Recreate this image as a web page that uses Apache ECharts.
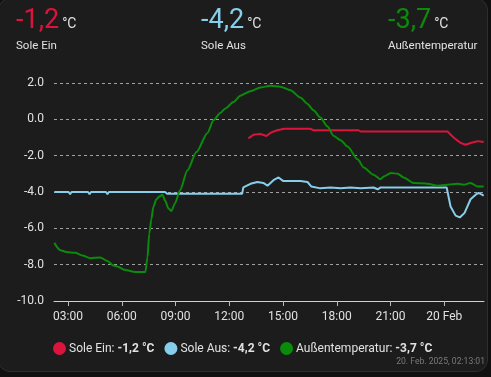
<!DOCTYPE html>
<html>
<head>
<meta charset="utf-8">
<script src="https://cdn.jsdelivr.net/npm/echarts@6/dist/echarts.min.js"></script>
<style>
  html, body { margin:0; padding:0; background:#111111; width:491px; height:377px; overflow:hidden; font-family: Roboto, "Noto Sans", sans-serif; }
  #card { position:absolute; left:-2px; top:-2px; width:490px; height:374px; background:#1c1c1c; border:1px solid #2e2e2e; border-radius:12px; box-sizing:border-box; }
  #chart { position:absolute; left:0; top:0; width:491px; height:377px; }
  .hd { position:absolute; top:4px; color:#e1e1e1; }
  .hd .val { font-size:27px; line-height:30px; }
  .hd .unit { font-size:14px; margin-left:3px; }
  .hd .lbl { font-size:11.5px; margin-top:4px; }
  #ts { position:absolute; right:6px; top:356px; font-size:8.6px; color:#7a7a7a; }
</style>
</head>
<body>
<div id="card"></div>
<div id="chart"></div>
<div class="hd" style="left:16px"><div><span class="val" style="color:#dc143c">-1,2</span><span class="unit">°C</span></div><div class="lbl">Sole Ein</div></div>
<div class="hd" style="left:201px"><div><span class="val" style="color:#87ceeb">-4,2</span><span class="unit">°C</span></div><div class="lbl">Sole Aus</div></div>
<div class="hd" style="left:388px"><div><span class="val" style="color:#0c8a0c">-3,7</span><span class="unit">°C</span></div><div class="lbl">Außentemperatur</div></div>
<div id="ts">20. Feb. 2025, 02:13:01</div>
<script>
// ---- data ----
const seriesNames = ['Sole Ein', 'Sole Aus', 'Außentemperatur'];
const currentValues = ['-1,2 °C', '-4,2 °C', '-3,7 °C'];
const monthNames = ['Jan','Feb','Mar','Apr','May','Jun','Jul','Aug','Sep','Oct','Nov','Dec'];
const xTickTimes = ['2025-02-19 03:00','2025-02-19 06:00','2025-02-19 09:00','2025-02-19 12:00','2025-02-19 15:00','2025-02-19 18:00','2025-02-19 21:00','2025-02-20 00:00'];

const tSoleEin = ['2025-02-19 13:04','2025-02-19 13:21','2025-02-19 13:44','2025-02-19 14:04','2025-02-19 14:21','2025-02-19 14:41','2025-02-19 15:04','2025-02-19 16:32','2025-02-19 16:42','2025-02-19 19:13','2025-02-19 19:20','2025-02-20 00:11','2025-02-20 00:31','2025-02-20 00:55','2025-02-20 01:12','2025-02-20 01:28','2025-02-20 01:52','2025-02-20 02:12'];
const vSoleEin = [-1.05,-0.85,-0.8,-0.92,-0.72,-0.6,-0.52,-0.52,-0.6,-0.6,-0.67,-0.67,-1.0,-1.3,-1.4,-1.3,-1.2,-1.25];

const tSoleAus = ['2025-02-19 02:14','2025-02-19 03:02','2025-02-19 03:07','2025-02-19 03:12','2025-02-19 04:07','2025-02-19 04:12','2025-02-19 04:17','2025-02-19 05:07','2025-02-19 05:12','2025-02-19 05:17','2025-02-19 07:58','2025-02-19 08:03','2025-02-19 08:08','2025-02-19 08:25','2025-02-19 08:32','2025-02-19 12:43','2025-02-19 12:47','2025-02-19 12:53','2025-02-19 13:11','2025-02-19 13:34','2025-02-19 13:54','2025-02-19 14:08','2025-02-19 14:28','2025-02-19 14:45','2025-02-19 15:01','2025-02-19 15:35','2025-02-19 15:58','2025-02-19 16:22','2025-02-19 16:35','2025-02-19 17:05','2025-02-19 17:39','2025-02-19 18:13','2025-02-19 18:46','2025-02-19 19:20','2025-02-19 20:03','2025-02-19 20:17','2025-02-19 20:27','2025-02-20 00:08','2025-02-20 00:21','2025-02-20 00:38','2025-02-20 00:52','2025-02-20 01:08','2025-02-20 01:28','2025-02-20 01:45','2025-02-20 01:55','2025-02-20 02:12'];
const vSoleAus = [-4.0,-4.0,-4.12,-4.0,-4.0,-4.12,-4.0,-4.0,-4.12,-4.0,-4.0,-4.1,-4.0,-4.0,-4.1,-4.1,-3.75,-3.65,-3.55,-3.45,-3.5,-3.65,-3.35,-3.2,-3.4,-3.4,-3.4,-3.45,-3.7,-3.8,-3.75,-3.8,-3.75,-3.8,-3.75,-3.85,-3.75,-3.75,-4.8,-5.3,-5.4,-5.15,-4.4,-4.15,-4.05,-4.2];

const tAussen = ['2025-02-19 02:14','2025-02-19 02:34','2025-02-19 02:54','2025-02-19 03:24','2025-02-19 03:48','2025-02-19 04:15','2025-02-19 04:48','2025-02-19 05:12','2025-02-19 05:32','2025-02-19 05:45','2025-02-19 06:12','2025-02-19 06:45','2025-02-19 07:12','2025-02-19 07:19','2025-02-19 07:26','2025-02-19 07:32','2025-02-19 07:39','2025-02-19 07:46','2025-02-19 07:56','2025-02-19 08:06','2025-02-19 08:16','2025-02-19 08:26','2025-02-19 08:36','2025-02-19 08:46','2025-02-19 08:59','2025-02-19 09:15','2025-02-19 09:40','2025-02-19 10:10','2025-02-19 10:47','2025-02-19 11:07','2025-02-19 11:30','2025-02-19 11:47','2025-02-19 12:14','2025-02-19 12:37','2025-02-19 13:11','2025-02-19 13:44','2025-02-19 14:18','2025-02-19 14:51','2025-02-19 15:25','2025-02-19 15:58','2025-02-19 16:22','2025-02-19 16:42','2025-02-19 17:05','2025-02-19 17:29','2025-02-19 17:49','2025-02-19 18:13','2025-02-19 18:36','2025-02-19 19:10','2025-02-19 19:30','2025-02-19 20:03','2025-02-19 20:27','2025-02-19 20:37','2025-02-19 21:01','2025-02-19 21:24','2025-02-19 21:44','2025-02-19 22:17','2025-02-19 23:04','2025-02-19 23:38','2025-02-20 00:11','2025-02-20 00:45','2025-02-20 01:05','2025-02-20 01:28','2025-02-20 01:52','2025-02-20 02:12'];
const vAussen = [-6.8,-7.2,-7.3,-7.35,-7.5,-7.65,-7.6,-7.8,-8.05,-8.1,-8.3,-8.4,-8.4,-8.4,-7.6,-6.3,-5.5,-4.8,-4.4,-4.25,-4.15,-4.5,-4.9,-5.05,-4.6,-3.9,-2.8,-1.8,-0.75,-0.05,0.35,0.6,0.95,1.3,1.55,1.75,1.85,1.8,1.6,1.2,0.85,0.5,0.1,-0.4,-0.9,-1.15,-1.5,-2.2,-2.65,-3.05,-3.3,-3.15,-2.95,-3.0,-3.2,-3.5,-3.55,-3.65,-3.6,-3.55,-3.6,-3.5,-3.7,-3.7];

const yTicks = { min: -10, max: 2, interval: 2 };
const xRange = ['2025-02-19 02:13:01', '2025-02-20 02:13:01'];

// ---- chart ----
function parseLocal(s){ const [d,t]=s.split(' '); const [Y,M,D]=d.split('-').map(Number); const tt=t.split(':').map(Number); return new Date(Y,M-1,D,tt[0],tt[1],tt[2]||0).getTime(); }
function zip(ts, vs){ return ts.map((t,i)=>[parseLocal(t), vs[i]]); }
function pad(n){ return (n<10?'0':'')+n; }
const colors = ['#dc143c', '#87ceeb', '#0c8a0c'];
const tickValues = xTickTimes.map(parseLocal);
const chart = echarts.init(document.getElementById('chart'), null, {renderer:'canvas'});
chart.setOption({
  backgroundColor: 'transparent',
  animation: false,
  color: colors,
  textStyle: { fontFamily: 'Roboto' },
  grid: { left: 54, top: 83, width: 430, height: 218, containLabel: false },
  legend: {
    left: 48, top: 337, icon: 'circle', itemWidth: 13, itemHeight: 13, itemGap: 10,
    data: seriesNames,
    formatter: function(name){ return name + ': {b|' + currentValues[seriesNames.indexOf(name)] + '}'; },
    textStyle: { color: '#e1e1e1', fontSize: 12, padding: [0,0,0,-2], rich: { b: { fontWeight: 'bold', color: '#e1e1e1', fontSize: 12 } } }
  },
  xAxis: {
    type: 'value', scale: true,
    min: parseLocal(xRange[0]), max: parseLocal(xRange[1]),
    axisLine: { show: true, onZero: false, lineStyle: { color: '#d0d0d0', width: 1 } },
    axisTick: { show: true, length: 5, customValues: tickValues, lineStyle: { color: '#bbbbbb' } },
    splitLine: { show: false },
    axisLabel: {
      color: '#e1e1e1', fontSize: 12, margin: 10, customValues: tickValues,
      formatter: function(v){ const d=new Date(v); if(d.getHours()===0&&d.getMinutes()===0) return d.getDate()+' '+monthNames[d.getMonth()]; return pad(d.getHours())+':'+pad(d.getMinutes()); }
    }
  },
  yAxis: {
    type: 'value', min: yTicks.min, max: yTicks.max, interval: yTicks.interval,
    axisLine: { show: false }, axisTick: { show: false },
    splitLine: { show: true, lineStyle: { color: '#a0a0a0', type: [3,3], width: 1 } },
    axisLabel: { color: '#e1e1e1', fontSize: 12, margin: 10, formatter: v => v.toFixed(1) }
  },
  series: [
    { name: seriesNames[0], type: 'line', data: zip(tSoleEin, vSoleEin), showSymbol: false, lineStyle: { width: 2 }, z: 3 },
    { name: seriesNames[1], type: 'line', data: zip(tSoleAus, vSoleAus), showSymbol: false, lineStyle: { width: 2 }, z: 2 },
    { name: seriesNames[2], type: 'line', data: zip(tAussen, vAussen), showSymbol: false, smooth: 0.25, smoothMonotone: 'x', lineStyle: { width: 2 }, z: 4 }
  ]
});
</script>
</body>
</html>
